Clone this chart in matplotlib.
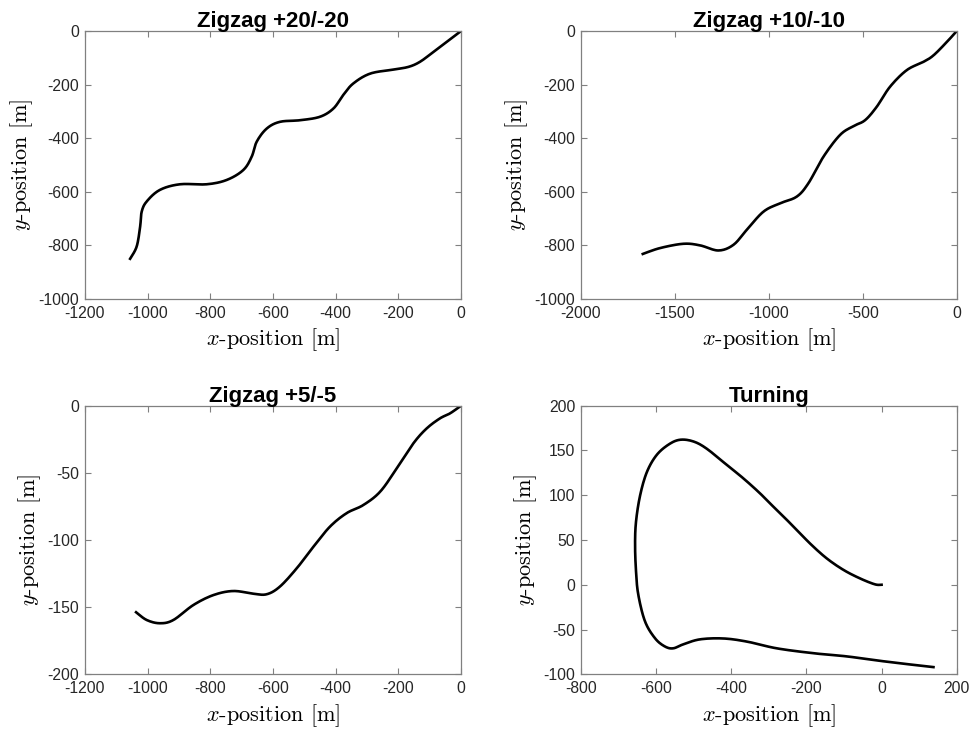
import numpy as np
import matplotlib
matplotlib.use("Agg")
import matplotlib.pyplot as plt

plt.rcParams['font.family'] = ['Liberation Sans', 'DejaVu Sans']
plt.rcParams['mathtext.fontset'] = 'cm'
plt.rcParams['axes.unicode_minus'] = False

# Zigzag +20/-20 trajectory
zz20_x = [-1056, -1035, -1024, -1019, -1003, -961, -897, -812, -748, -695, -668, -652,
          -620, -578, -514, -450, -407, -376, -344, -290, -216, -168, -131, -88, -46, 0]
zz20_y = [-850, -804, -730, -674, -636, -593, -572, -572, -556, -519, -469, -413,
          -364, -339, -333, -320, -289, -239, -196, -159, -144, -134, -115, -78, -41, 0]

# Zigzag +10/-10 trajectory
zz10_x = [-1670, -1578, -1454, -1365, -1268, -1188, -1117, -1028, -940, -851, -789, -709,
          -621, -550, -488, -426, -355, -266, -177, -124, -53, 0]
zz10_y = [-832, -810, -794, -800, -819, -798, -742, -674, -643, -618, -568, -469,
          -388, -355, -333, -283, -208, -146, -115, -91, -41, 0]

# Zigzag +5/-5 trajectory
zz5_x = [-1037, -1003, -961, -918, -854, -790, -727, -663, -620, -578, -524, -471,
         -418, -365, -312, -258, -205, -152, -110, -67, -35, 0]
zz5_y = [-153.8, -159.6, -162, -159.6, -148.4, -141, -138, -140, -140.4, -134.7, -121, -105,
         -90, -80, -74, -64, -46.6, -28, -17, -9.4, -5.7, 0]

# Turning circle trajectory
turn_x = [0, -18, -57, -101, -146, -190, -234, -279, -323, -368, -412, -465, -500, -535,
          -565, -598, -624, -642, -653, -655.5, -653, -647, -629, -602, -576, -554, -527,
          -483, -421, -358, -279, -181, -93, -4, 85, 138]
turn_y = [0, 0.5, 7, 16.5, 29.5, 46, 65, 83.5, 102, 119, 134, 152, 160, 162,
          157, 145, 126, 100, 70.5, 44.4, 15, -11, -41, -60, -69, -71, -66.5,
          -61, -60, -63.5, -71, -76.5, -80, -85, -89.5, -92]


def smooth(xs, ys, n=12):
    # Catmull-Rom through the read-off points so the curve looks continuous
    p = np.column_stack([xs, ys]).astype(float)
    p = np.vstack([p[0], p, p[-1]])
    out = []
    t = np.linspace(0, 1, n, endpoint=False)[:, None]
    for i in range(1, len(p) - 2):
        p0, p1, p2, p3 = p[i - 1], p[i], p[i + 1], p[i + 2]
        seg = 0.5 * ((2 * p1) + (-p0 + p2) * t + (2 * p0 - 5 * p1 + 4 * p2 - p3) * t ** 2
                     + (-p0 + 3 * p1 - 3 * p2 + p3) * t ** 3)
        out.append(seg)
    out.append(p[-2][None, :])
    out = np.vstack(out)
    return out[:, 0], out[:, 1]


panels = [
    ("Zigzag +20/-20", zz20_x, zz20_y, (-1200, 0), np.arange(-1200, 1, 200), (-1000, 0), np.arange(-1000, 1, 200)),
    ("Zigzag +10/-10", zz10_x, zz10_y, (-2000, 0), np.arange(-2000, 1, 500), (-1000, 0), np.arange(-1000, 1, 200)),
    ("Zigzag +5/-5", zz5_x, zz5_y, (-1200, 0), np.arange(-1200, 1, 200), (-200, 0), np.arange(-200, 1, 50)),
    ("Turning", turn_x, turn_y, (-800, 200), np.arange(-800, 201, 200), (-100, 200), np.arange(-100, 201, 50)),
]

positions = [
    [0.0869, 0.591, 0.3845, 0.3666],
    [0.5938, 0.591, 0.3845, 0.3666],
    [0.0869, 0.0776, 0.3845, 0.3674],
    [0.5938, 0.0776, 0.3845, 0.3674],
]

fig = plt.figure(figsize=(9.78, 7.31), dpi=100)
for (title, xs, ys, xl, xt, yl, yt), pos in zip(panels, positions):
    ax = fig.add_axes(pos)
    sx, sy = smooth(xs, ys)
    ax.plot(sx, sy, color='black', linewidth=1.9)
    ax.set_xlim(*xl)
    ax.set_ylim(*yl)
    ax.set_xticks(xt)
    ax.set_yticks(yt)
    ax.tick_params(direction='in', top=True, right=True, length=4, width=0.8,
                   color='#808080', labelcolor='#262626', labelsize=11.3)
    ax.tick_params(axis='x', pad=5)
    ax.tick_params(axis='y', pad=4)
    for s in ax.spines.values():
        s.set_color('#808080')
        s.set_linewidth(0.9)
    ax.set_title(title, fontsize=16, fontweight='bold', pad=3)
    ax.set_xlabel(r'$x$-position [m]', family='cmr10', fontsize=16, labelpad=4)
    ax.set_ylabel(r'$y$-position [m]', family='cmr10', fontsize=16, labelpad=3)

plt.savefig("out.png", dpi=100)
